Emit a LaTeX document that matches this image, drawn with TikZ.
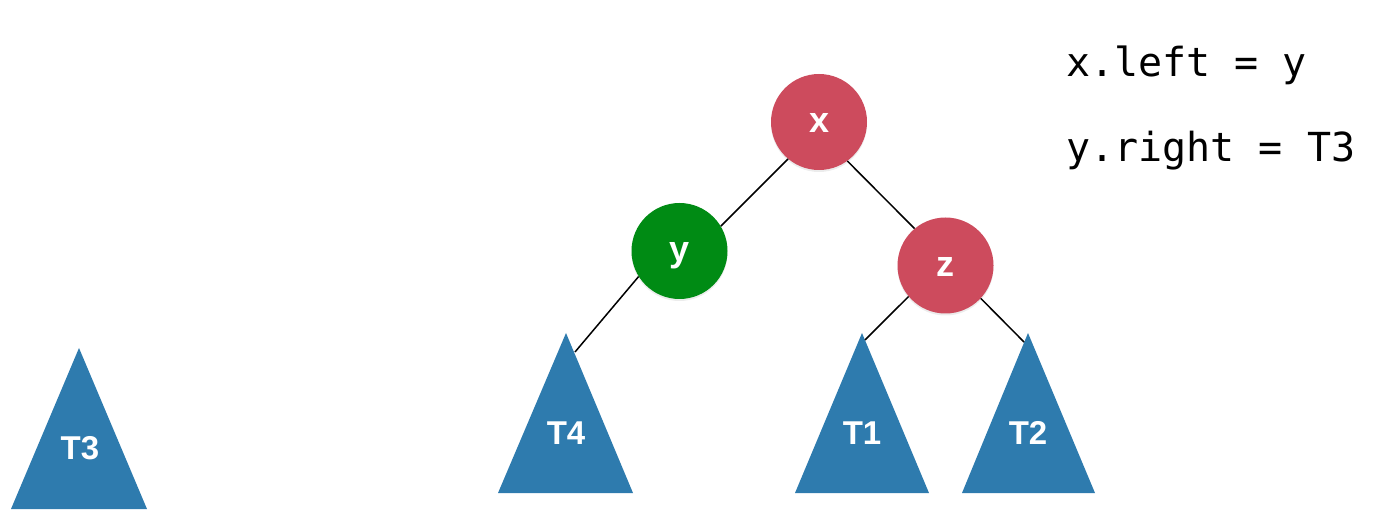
\documentclass[tikz,border=0pt]{standalone}
\usepackage{fontspec}
\setmainfont{Liberation Sans}
\newfontfamily\codefont{DejaVu Sans Mono}
\usetikzlibrary{shadows}
\definecolor{nodered}{RGB}{205,75,93}
\definecolor{nodegreen}{RGB}{0,139,20}
\definecolor{treeblue}{RGB}{46,123,174}
\begin{document}
\begin{tikzpicture}[x=1pt,y=-1pt,
  treenode/.style={circle,minimum size=96pt,inner sep=0pt,text=white,
    font=\fontsize{36}{40}\selectfont\bfseries,text height=22pt,text depth=0pt,
    drop shadow={shadow xshift=0pt,shadow yshift=-2pt,opacity=0.15}},
  rednode/.style={treenode,fill=nodered},
  greennode/.style={treenode,fill=nodegreen},
  subtree/.style={fill=treeblue},
  treelabel/.style={inner sep=0pt,text=white,font=\fontsize{33}{38}\selectfont\bfseries,
    text height=23.6pt,text depth=0pt},
  edge/.style={draw=black,line width=1.5pt},
  codeline/.style={anchor=base west,inner sep=0pt,font=\fontsize{40}{48}\codefont}]
\useasboundingbox (0,0) rectangle (1378,526);

% subtrees
\fill[subtree] (79,348) -- (147,509) -- (11,509) -- cycle;
\node[treelabel] (t3) at (80,448) {T3};
\fill[subtree] (566,333) -- (633,493) -- (498,493) -- cycle;
\node[treelabel] (t4) at (566,433) {T4};
\fill[subtree] (862,333) -- (929,493) -- (795,493) -- cycle;
\node[treelabel] (t1) at (862,433) {T1};
\fill[subtree] (1028,333) -- (1095,493) -- (962,493) -- cycle;
\node[treelabel] (t2) at (1028,433) {T2};

\coordinate (t4end) at (575,352);
\coordinate (t1end) at (865,340);
\coordinate (t2end) at (1024,342);

% tree nodes
\node[rednode] (x) at (819,122) {x};
\node[greennode] (y) at (679.5,251) {y};
\node[rednode] (z) at (945.5,265.5) {z};

% edges
\draw[edge] (x.230) -- (y.31);
\draw[edge] (x.306) -- (z.130);
\draw[edge] (y.212) -- (t4end);
\draw[edge] (z.220) -- (t1end);
\draw[edge] (z.317) -- (t2end);

% code
\node[codeline] (c1) at (1066,77) {x.left = y};
\node[codeline] (c2) at (1066,162) {y.right = T3};
\end{tikzpicture}
\end{document}
